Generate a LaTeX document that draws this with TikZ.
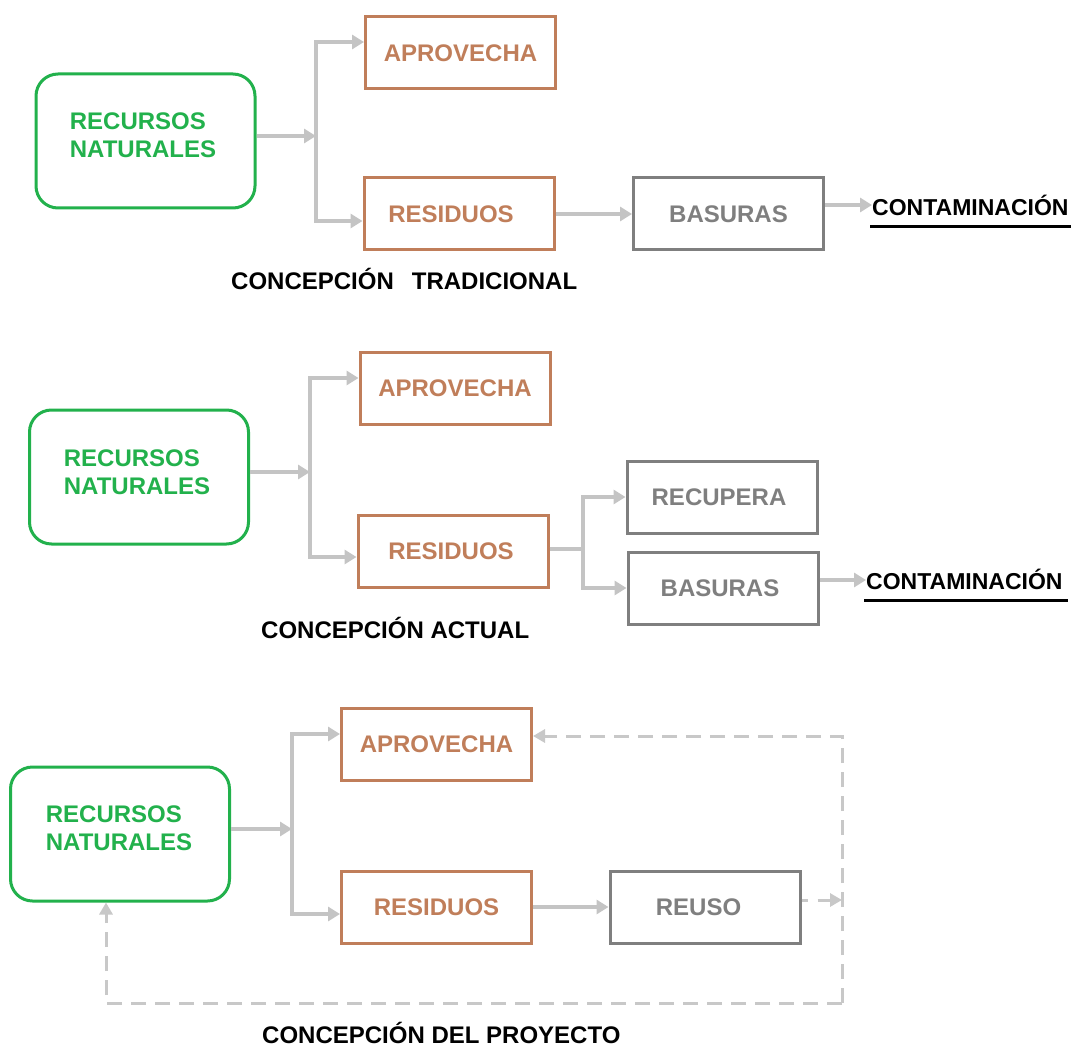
\documentclass[tikz,border=0pt]{standalone}
\usepackage{fontspec}
\setmainfont{Liberation Sans}
\usetikzlibrary{arrows.meta}
\definecolor{grn}{RGB}{34,177,76}
\definecolor{brn}{RGB}{192,126,90}
\definecolor{gry}{RGB}{127,127,127}
\definecolor{arrg}{RGB}{196,196,196}
\definecolor{dshg}{RGB}{200,200,200}
\begin{document}
\begin{tikzpicture}[x=1pt,y=-1pt,
  rnbox/.style={draw=grn, line width=3pt, rounded corners=22pt, minimum width=219pt, minimum height=134pt, inner sep=0pt},
  rntxt/.style={text=grn, font=\bfseries\fontsize{24}{28}\selectfont, align=left, inner sep=0pt},
  brbox/.style={draw=brn, line width=3pt, text=brn, font=\bfseries\fontsize{24}{28}\selectfont, minimum width=190pt, minimum height=72pt, inner sep=0pt},
  gybox/.style={draw=gry, line width=3pt, text=gry, font=\bfseries\fontsize{24}{28}\selectfont, minimum width=190pt, minimum height=72pt, inner sep=0pt},
  arr/.style={draw=arrg, line width=3.6pt, -{Triangle[length=12pt,width=14pt]}},
  ln/.style={draw=arrg, line width=3.6pt},
  dsh/.style={draw=dshg, line width=3pt, dash pattern=on 15pt off 9pt, -{Triangle[length=12pt,width=13pt]}},
  lbl/.style={font=\bfseries\fontsize{24}{28}\selectfont, inner sep=0pt, anchor=base west},
  ctm/.style={font=\bfseries\fontsize{23}{28}\selectfont, inner sep=0pt, anchor=base west}
]
\useasboundingbox[fill=white] (0,0) rectangle (1075,1048);

% ---------- Concepcion tradicional ----------
\node[rnbox] (rn1) at (145.5,141) {};
\node[rntxt] (rn1t) at (143,135) {RECURSOS\\NATURALES};
\node[brbox] (apr1) at (460.5,53) {APROVECHA};
\node[brbox] (res1) at (459,214) {RESIDUOS\hspace*{16pt}};
\node[gybox] (bas1) at (728.5,214) {BASURAS};
\node[ctm] (con1) at (872,215.2) {CONTAMINACIÓN};
\node[lbl] (h1) at (231,289.4) {CONCEPCIÓN\hspace{18pt}TRADICIONAL};

\coordinate (v1) at (316,136);
\coordinate (t1) at (316,42);
\coordinate (b1) at (316,221);
\draw[arr] (rn1.east |- v1) -- (v1);
\draw[arr] (v1) -- (t1) -- (t1 -| apr1.west);
\draw[arr] (v1) -- (b1) -- (b1 -| res1.west);
\draw[arr] (res1.east) -- (bas1.west);
\coordinate (c1) at ([yshift=9pt]bas1.east);
\draw[arr] (c1) -- (c1 -| con1.west);
\draw[line width=3pt] ([xshift=-2pt,yshift=-11.8pt]con1.base west) -- ([xshift=2pt,yshift=-11.8pt]con1.base east);

% ---------- Concepcion actual ----------
\node[rnbox] (rn2) at (139,477) {};
\node[rntxt] (rn2t) at (137,472) {RECURSOS\\NATURALES};
\node[brbox] (apr2) at (455,388.5) {APROVECHA};
\node[brbox] (res2) at (453,551) {RESIDUOS\hspace*{4pt}};
\node[gybox] (rec) at (722,497) {RECUPERA\hspace*{6pt}};
\node[gybox] (bas2) at (723,588) {BASURAS\hspace*{6pt}};
\node[ctm] (con2) at (866,589.2) {CONTAMINACIÓN};
\node[lbl] (h2) at (261,638.4) {CONCEPCIÓN ACTUAL};

\coordinate (v2) at (310,472);
\coordinate (t2) at (310,378);
\coordinate (b2) at (310,557);
\draw[arr] (rn2.east |- v2) -- (v2);
\draw[arr] (v2) -- (t2) -- (t2 -| apr2.west);
\draw[arr] (v2) -- (b2) -- (b2 -| res2.west);
\coordinate (j2) at (583,549);
\draw[ln] (res2.east |- j2) -- (j2);
\draw[arr] (j2) |- (rec.west);
\draw[arr] (j2) |- (bas2.west);
\coordinate (c2) at ([yshift=8pt]bas2.east);
\draw[arr] (c2) -- (c2 -| con2.west);
\draw[line width=3pt] ([xshift=-2pt,yshift=-11pt]con2.base west) -- ([xshift=5pt,yshift=-11pt]con2.base east);

% ---------- Concepcion del proyecto ----------
\node[rnbox] (rn3) at (120,834) {};
\node[rntxt] (rn3t) at (119,828) {RECURSOS\\NATURALES};
\node[brbox] (apr3) at (436.5,744.5) {APROVECHA};
\node[brbox] (res3) at (436.5,907) {RESIDUOS};
\node[gybox] (reuso) at (705,907) {REUSO\hspace*{13pt}};
\node[lbl] (h3) at (262,1043.5) {CONCEPCIÓN DEL PROYECTO};

\coordinate (v3) at (292,829);
\coordinate (t3) at (292,734);
\coordinate (b3) at (292,914);
\draw[arr] (rn3.east |- v3) -- (v3);
\draw[arr] (v3) -- (t3) -- (t3 -| apr3.west);
\draw[arr] (v3) -- (b3) -- (b3 -| res3.west);
\draw[arr] (res3.east) -- (reuso.west);

\coordinate (k1) at (842,736);
\coordinate (k2) at (842,1003);
\coordinate (k3) at (106,1003);
\coordinate (ro) at ([yshift=7pt]reuso.east);
\draw[dsh, dash pattern=on 6pt off 10pt on 30pt off 10pt] (ro) -- (ro -| k1);
\draw[dsh] (k2) -- (k1) -- (k1 -| apr3.east);
\draw[dsh] (k2) -- (k3) -- (k3 |- rn3.south);
\end{tikzpicture}
\end{document}
